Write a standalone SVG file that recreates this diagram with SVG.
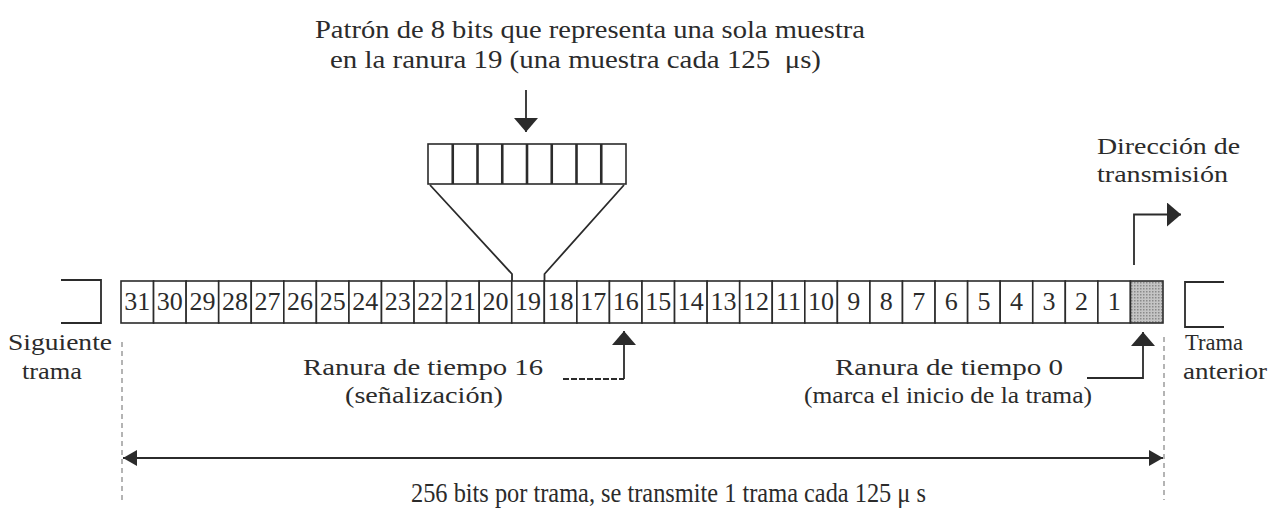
<svg xmlns="http://www.w3.org/2000/svg" width="1270" height="510" viewBox="0 0 1270 510">
<style>
text{font-family:"Liberation Serif","Times New Roman",serif;fill:#2b2b2b;font-size:26px}
.lbl{font-size:24px}
.num{text-anchor:middle;font-size:26px}
.slot{fill:#fff;stroke:#2b2b2b;stroke-width:1.6}
.ln{fill:none;stroke:#2b2b2b;stroke-width:1.8}
.div{stroke:#2b2b2b;stroke-width:2.6}
.dash{fill:none;stroke:#777;stroke-width:1.1;stroke-dasharray:5 4}
.dot{fill:none;stroke:#2b2b2b;stroke-width:1.8;stroke-dasharray:6 2}
</style>
<defs>
<marker id="head" viewBox="0 0 14 24" refX="14" refY="12" markerWidth="14" markerHeight="24" markerUnits="userSpaceOnUse" orient="auto-start-reverse"><path d="M0,0 L14,12 L0,24 Z" fill="#2b2b2b"/></marker>
<marker id="headN" viewBox="0 0 14 16" refX="14" refY="8" markerWidth="14" markerHeight="16" markerUnits="userSpaceOnUse" orient="auto-start-reverse"><path d="M0,0 L14,8 L0,16 Z" fill="#2b2b2b"/></marker>
<pattern id="stip" width="3" height="3" patternUnits="userSpaceOnUse"><rect width="3" height="3" fill="#c4c4c4"/><rect x="0" y="0" width="1.5" height="1.5" fill="#8a8a8a"/></pattern>
</defs>
<rect width="1270" height="510" fill="#fff"/>

<g id="title">
<text x="315" y="38" textLength="550" lengthAdjust="spacingAndGlyphs">Patrón de 8 bits que representa una sola muestra</text>
<text x="330" y="68" textLength="491" lengthAdjust="spacingAndGlyphs" xml:space="preserve">en la ranura 19 (una muestra cada 125  μs)</text>
</g>

<g id="bit-pattern">
<rect x="428" y="144" width="198" height="40" fill="#fff" stroke="#2b2b2b" stroke-width="1.6"/>
<line class="div" x1="452.75" y1="144" x2="452.75" y2="184"/>
<line class="div" x1="477.5" y1="144" x2="477.5" y2="184"/>
<line class="div" x1="502.25" y1="144" x2="502.25" y2="184"/>
<line class="div" x1="527" y1="144" x2="527" y2="184"/>
<line class="div" x1="551.75" y1="144" x2="551.75" y2="184"/>
<line class="div" x1="576.5" y1="144" x2="576.5" y2="184"/>
<line class="div" x1="601.25" y1="144" x2="601.25" y2="184"/>
<polyline class="ln" points="430,185 512,274 512,281"/>
<polyline class="ln" points="624,185 544.5,274 544.5,281"/>
</g>

<g id="next-frame">
<path class="ln" d="M61,280 H101 V323 H61"/>
<text class="lbl" x="8" y="350" textLength="104" lengthAdjust="spacingAndGlyphs">Siguiente</text>
<text class="lbl" x="22" y="379" textLength="60" lengthAdjust="spacingAndGlyphs">trama</text>
</g>

<g id="previous-frame">
<path class="ln" d="M1224,282 H1185 V327 H1224"/>
<text class="lbl" x="1185" y="350" textLength="58" lengthAdjust="spacingAndGlyphs">Trama</text>
<text class="lbl" x="1183" y="379" textLength="84" lengthAdjust="spacingAndGlyphs">anterior</text>
</g>

<g id="frame">
<g id="slot-31"><rect class="slot" x="121" y="281" width="32.56" height="42"/><text class="num" x="137.3" y="310">31</text></g>
<g id="slot-30"><rect class="slot" x="153.56" y="281" width="32.56" height="42"/><text class="num" x="169.8" y="310">30</text></g>
<g id="slot-29"><rect class="slot" x="186.13" y="281" width="32.56" height="42"/><text class="num" x="202.4" y="310">29</text></g>
<g id="slot-28"><rect class="slot" x="218.69" y="281" width="32.56" height="42"/><text class="num" x="235" y="310">28</text></g>
<g id="slot-27"><rect class="slot" x="251.25" y="281" width="32.56" height="42"/><text class="num" x="267.5" y="310">27</text></g>
<g id="slot-26"><rect class="slot" x="283.81" y="281" width="32.56" height="42"/><text class="num" x="300.1" y="310">26</text></g>
<g id="slot-25"><rect class="slot" x="316.38" y="281" width="32.56" height="42"/><text class="num" x="332.7" y="310">25</text></g>
<g id="slot-24"><rect class="slot" x="348.94" y="281" width="32.56" height="42"/><text class="num" x="365.2" y="310">24</text></g>
<g id="slot-23"><rect class="slot" x="381.5" y="281" width="32.56" height="42"/><text class="num" x="397.8" y="310">23</text></g>
<g id="slot-22"><rect class="slot" x="414.06" y="281" width="32.56" height="42"/><text class="num" x="430.3" y="310">22</text></g>
<g id="slot-21"><rect class="slot" x="446.63" y="281" width="32.56" height="42"/><text class="num" x="462.9" y="310">21</text></g>
<g id="slot-20"><rect class="slot" x="479.19" y="281" width="32.56" height="42"/><text class="num" x="495.5" y="310">20</text></g>
<g id="slot-19"><rect class="slot" x="511.75" y="281" width="32.56" height="42"/><text class="num" x="528" y="310">19</text></g>
<g id="slot-18"><rect class="slot" x="544.31" y="281" width="32.56" height="42"/><text class="num" x="560.6" y="310">18</text></g>
<g id="slot-17"><rect class="slot" x="576.88" y="281" width="32.56" height="42"/><text class="num" x="593.2" y="310">17</text></g>
<g id="slot-16"><rect class="slot" x="609.44" y="281" width="32.56" height="42"/><text class="num" x="625.7" y="310">16</text></g>
<g id="slot-15"><rect class="slot" x="642" y="281" width="32.56" height="42"/><text class="num" x="658.3" y="310">15</text></g>
<g id="slot-14"><rect class="slot" x="674.56" y="281" width="32.56" height="42"/><text class="num" x="690.8" y="310">14</text></g>
<g id="slot-13"><rect class="slot" x="707.13" y="281" width="32.56" height="42"/><text class="num" x="723.4" y="310">13</text></g>
<g id="slot-12"><rect class="slot" x="739.69" y="281" width="32.56" height="42"/><text class="num" x="756" y="310">12</text></g>
<g id="slot-11"><rect class="slot" x="772.25" y="281" width="32.56" height="42"/><text class="num" x="788.5" y="310">11</text></g>
<g id="slot-10"><rect class="slot" x="804.81" y="281" width="32.56" height="42"/><text class="num" x="821.1" y="310">10</text></g>
<g id="slot-9"><rect class="slot" x="837.38" y="281" width="32.56" height="42"/><text class="num" x="853.7" y="310">9</text></g>
<g id="slot-8"><rect class="slot" x="869.94" y="281" width="32.56" height="42"/><text class="num" x="886.2" y="310">8</text></g>
<g id="slot-7"><rect class="slot" x="902.5" y="281" width="32.56" height="42"/><text class="num" x="918.8" y="310">7</text></g>
<g id="slot-6"><rect class="slot" x="935.06" y="281" width="32.56" height="42"/><text class="num" x="951.3" y="310">6</text></g>
<g id="slot-5"><rect class="slot" x="967.63" y="281" width="32.56" height="42"/><text class="num" x="983.9" y="310">5</text></g>
<g id="slot-4"><rect class="slot" x="1000.19" y="281" width="32.56" height="42"/><text class="num" x="1016.5" y="310">4</text></g>
<g id="slot-3"><rect class="slot" x="1032.75" y="281" width="32.56" height="42"/><text class="num" x="1049" y="310">3</text></g>
<g id="slot-2"><rect class="slot" x="1065.31" y="281" width="32.56" height="42"/><text class="num" x="1081.6" y="310">2</text></g>
<g id="slot-1"><rect class="slot" x="1097.88" y="281" width="32.56" height="42"/><text class="num" x="1114.2" y="310">1</text></g>
<g id="slot-0"><rect class="slot" x="1130.44" y="281" width="32.56" height="42" style="fill:url(#stip)"/></g>
</g>

<g id="label-slot16">
<text class="lbl" x="303" y="375" textLength="240" lengthAdjust="spacingAndGlyphs">Ranura de tiempo 16</text>
<text class="lbl" x="345" y="403" textLength="158" lengthAdjust="spacingAndGlyphs">(señalización)</text>
</g>

<g id="label-slot0">
<text class="lbl" x="835" y="375" textLength="228" lengthAdjust="spacingAndGlyphs">Ranura de tiempo 0</text>
<text class="lbl" x="804" y="403" textLength="288" lengthAdjust="spacingAndGlyphs">(marca el inicio de la trama)</text>
</g>

<g id="label-direction">
<text class="lbl" x="1097" y="154" textLength="143" lengthAdjust="spacingAndGlyphs">Dirección de</text>
<text class="lbl" x="1097" y="182" textLength="131" lengthAdjust="spacingAndGlyphs">transmisión</text>
</g>

<g id="label-frame-length">
<text x="411" y="502" textLength="515" lengthAdjust="spacingAndGlyphs" style="font-size:27px">256 bits por trama, se transmite 1 trama cada 125 μ s</text>
</g>

<g id="connectors">
<line class="ln" x1="526" y1="90" x2="526" y2="132" marker-end="url(#head)"/>
<line class="dot" x1="563" y1="379" x2="624" y2="379"/>
<line class="ln" x1="624" y1="379" x2="624" y2="331" marker-end="url(#head)"/>
<polyline class="ln" points="1087,378 1143,378 1143,332" marker-end="url(#head)"/>
<polyline class="ln" points="1134,265 1134,214.5 1181,214.5" marker-end="url(#head)"/>
<line class="dash" x1="122" y1="342" x2="122" y2="500"/>
<line class="dash" x1="1164" y1="337" x2="1164" y2="500"/>
<line class="ln" x1="123" y1="458" x2="1163" y2="458" stroke-width="2.2" marker-start="url(#headN)" marker-end="url(#headN)"/>
</g>
</svg>
